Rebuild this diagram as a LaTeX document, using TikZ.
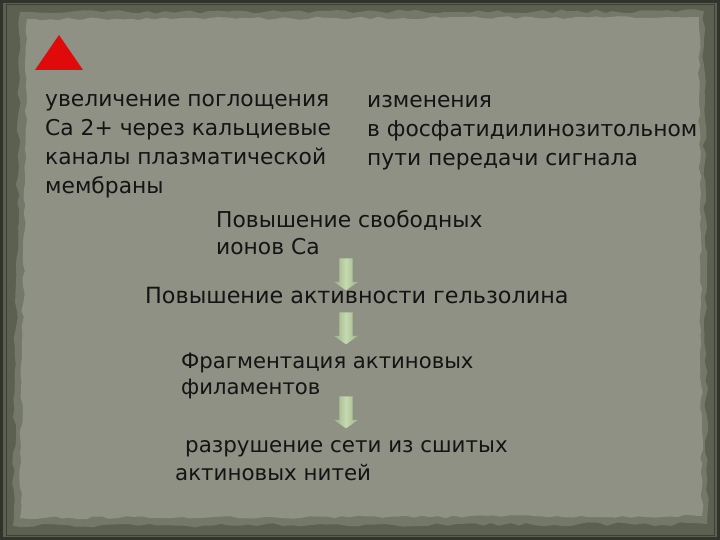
\documentclass[tikz,border=0pt]{standalone}
\usepackage{fontspec}
\setmainfont{DejaVu Sans}
\usetikzlibrary{decorations.pathmorphing,shapes.arrows}
\definecolor{band}{HTML}{5C6050}
\definecolor{outerdark}{HTML}{30342A}
\definecolor{halo}{HTML}{747868}
\definecolor{paper}{HTML}{8E9184}
\definecolor{ink}{HTML}{141414}
\definecolor{gA}{HTML}{9AB282}
\definecolor{gB}{HTML}{C6D9B2}
\definecolor{redtri}{HTML}{E10A0A}
\tikzset{
  txt/.style={anchor=base west, inner sep=0pt, text=ink, font=\fontsize{21.8}{29}\selectfont},
  garrow/.style={shape=single arrow, rotate=-90, draw=none, inner sep=0pt,
    text height=6.5pt, text depth=6.5pt,
    minimum height=32pt, single arrow head extend=5.5pt,
    single arrow tip angle=110, left color=gA, right color=gA, middle color=gB},
}
\begin{document}
\begin{tikzpicture}[x=1pt,y=-1pt]
\useasboundingbox (0,0) rectangle (720,540);
\fill[band] (0,0) rectangle (720,540);
\draw[outerdark, line width=3pt] (1.5,1.5) rectangle (718.5,538.5);
\draw[outerdark!70!band, line width=1pt] (6,5) rectangle (714,535);
\pgfmathsetseed{11}
\fill[halo, decorate, decoration={random steps, segment length=9pt, amplitude=2pt}]
  (20,12) -- (704,11) -- (707,524) -- (13,526) -- cycle;
\pgfmathsetseed{5}
\fill[paper, decorate, decoration={random steps, segment length=8pt, amplitude=1.5pt}]
  (27,19) -- (699,17) -- (702,516) -- (20,518) -- cycle;
% red triangle
\fill[redtri] (59,35) -- (83,70) -- (35,70) -- cycle;
% texts
\node[txt] (t1) at (45,107) {\begin{tabular}[t]{@{}l@{}}увеличение поглощения\\Са 2+ через кальциевые\\каналы плазматической\\мембраны\end{tabular}};
\node[txt] (t2) at (367,108) {\begin{tabular}[t]{@{}l@{}}изменения\\в фосфатидилинозитольном\\пути передачи сигнала\end{tabular}};
\node[txt, font=\fontsize{21.8}{27}\selectfont] (t3) at (216,228) {\begin{tabular}[t]{@{}l@{}}Повышение свободных\\ионов Са\end{tabular}};
\node[txt, font=\fontsize{22.3}{29}\selectfont] (t4) at (145,303) {Повышение активности гельзолина};
\node[txt, font=\fontsize{21.2}{26}\selectfont] (t5) at (181,368) {\begin{tabular}[t]{@{}l@{}}Фрагментация актиновых\\филаментов\end{tabular}};
\node[txt, font=\fontsize{21.4}{28}\selectfont] (t6) at (175,452) {\begin{tabular}[t]{@{}l@{}}\hspace*{10pt}разрушение сети из сшитых\\актиновых нитей\end{tabular}};
% arrows
\node[garrow] (a1) at (346,272) {};
\node[garrow] (a2) at (346,326) {};
\node[garrow] (a3) at (346,410) {};
\end{tikzpicture}
\end{document}
